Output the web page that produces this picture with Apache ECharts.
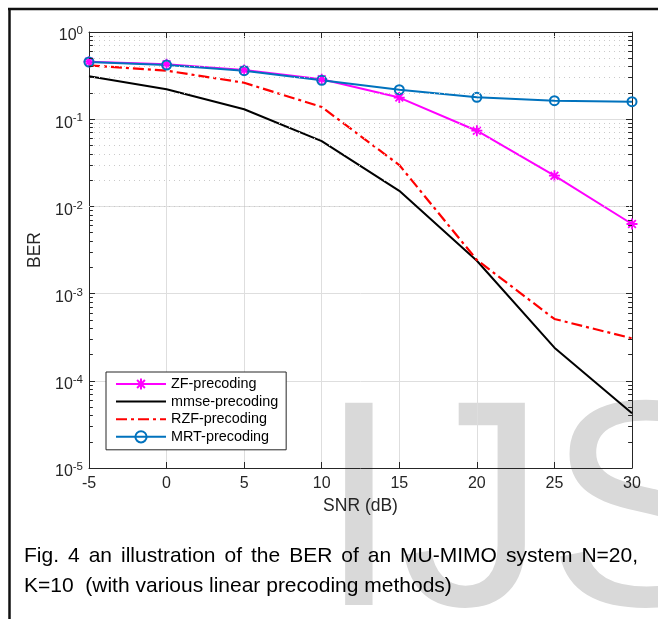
<!DOCTYPE html>
<html><head><meta charset="utf-8">
<script src="https://cdn.jsdelivr.net/npm/echarts@6/dist/echarts.min.js"></script>
<style>html,body{margin:0;padding:0;background:#fff}#c{width:658px;height:619px}</style>
</head><body><div id="c"></div>
<script>
// ---- data ----
const snr = [-5, 0, 5, 10, 15, 20, 25, 30];
const zfBer = [0.457, 0.426, 0.367, 0.287, 0.177, 0.0738, 0.0225, 0.00628];
const mmseBer = [0.31, 0.22, 0.13, 0.056, 0.0151, 0.00238, 0.00024, 0.0000424];
const rzfBer = [0.415, 0.36, 0.262, 0.138, 0.0298, 0.00243, 0.000512, 0.000307];
const mrtBer = [0.453, 0.418, 0.36, 0.279, 0.218, 0.178, 0.163, 0.159];
const seriesNames = ['ZF-precoding', 'mmse-precoding', 'RZF-precoding', 'MRT-precoding'];
const xName = 'SNR (dB)';
const yName = 'BER';
const captionLine1 = 'Fig. 4 an illustration of the BER of an MU-MIMO system N=20,';
const captionLine2 = 'K=10  (with various linear precoding methods)';
const watermark = 'IJSER';
const yExponents = [-5, -4, -3, -2, -1];
const minorMantissas = [2, 3, 4, 5, 6, 7, 8, 9];

// ---- build ----
const FONT = '"Liberation Sans", Arial, Helvetica, sans-serif';
const AX = '#262626';
const minorVals = [];
yExponents.forEach(e => minorMantissas.forEach(m => minorVals.push(m * Math.pow(10, e))));
const pair = (a, b) => snr.map((x, i) => [x, b[i]]);

const starPath = 'path://M5,0 L5,10 M0,5 L10,5 M1.5,1.5 L8.5,8.5 M1.5,8.5 L8.5,1.5';

const graphics = [];
graphics.push({type: 'text', x: 318, y: 524, z: -1, silent: true,
  style: {text: watermark, fontSize: 294, fontFamily: FONT, fill: '#d9d9d9', verticalAlign: 'middle'}});
// frame
graphics.push({type: 'line', z: 10, shape: {x1: 8, y1: 9, x2: 658, y2: 9}, style: {stroke: '#111', lineWidth: 2.5}});
graphics.push({type: 'line', z: 10, shape: {x1: 9.5, y1: 8, x2: 9.5, y2: 619}, style: {stroke: '#111', lineWidth: 2.5}});
// caption (line 1 justified)
const capSize = 21, capLeft = 24, capRight = 638;
const ctx = document.createElement('canvas').getContext('2d');
ctx.font = capSize + 'px ' + FONT;
const words = captionLine1.split(' ');
const widths = words.map(w => ctx.measureText(w).width);
const total = widths.reduce((a, b) => a + b, 0);
const gap = (capRight - capLeft - total) / (words.length - 1);
let cx = capLeft;
words.forEach((w, i) => {
  graphics.push({type: 'text', x: cx, y: 556, z: 5,
    style: {text: w, fontSize: capSize, fontFamily: FONT, fill: '#000', verticalAlign: 'middle'}});
  cx += widths[i] + gap;
});
graphics.push({type: 'text', x: capLeft, y: 586, z: 5,
  style: {text: captionLine2, fontSize: capSize, fontFamily: FONT, fill: '#000', verticalAlign: 'middle'}});

const hiddenSym = {color: 'rgba(0,0,0,0)', borderWidth: 0, borderColor: 'rgba(0,0,0,0)'};
const chart = echarts.init(document.getElementById('c'), null, {renderer: 'canvas'});
const option = {
  animation: false,
  backgroundColor: '#fff',
  graphic: graphics,
  grid: {left: 89, top: 32, right: 26, bottom: 151},
  legend: {
    data: [
      {name: seriesNames[0]},
      {name: seriesNames[1], itemStyle: hiddenSym},
      {name: seriesNames[2], itemStyle: hiddenSym},
      {name: seriesNames[3]}
    ],
    orient: 'vertical', left: 106, top: 372,
    itemWidth: 50, itemHeight: 14, itemGap: 3.6,
    padding: [5, 8, 6, 9],
    backgroundColor: '#fff', borderColor: AX, borderWidth: 1,
    textStyle: {fontSize: 14.4, fontFamily: FONT, color: '#000'},
    z: 20
  },
  xAxis: [{
    type: 'value', min: -5, max: 30, interval: 5,
    name: xName, nameLocation: 'middle', nameGap: 29,
    nameTextStyle: {fontSize: 17.5, fontFamily: FONT, color: AX},
    axisLine: {show: true, onZero: false, lineStyle: {color: AX, width: 1}},
    axisTick: {show: true, inside: true, length: 6, lineStyle: {color: AX}},
    axisLabel: {fontSize: 16, fontFamily: FONT, color: AX, margin: 8},
    splitLine: {show: true, lineStyle: {color: '#dedede', width: 1}}
  }, {
    type: 'value', min: -5, max: 30, interval: 5, position: 'top',
    axisLine: {show: true, onZero: false, lineStyle: {color: AX, width: 1}},
    axisTick: {show: true, inside: true, length: 6, lineStyle: {color: AX}},
    axisLabel: {show: false}, splitLine: {show: false}
  }],
  yAxis: [{
    type: 'log', logBase: 10, min: 1e-5, max: 1,
    name: yName, nameLocation: 'middle', nameGap: 35, nameRotate: 90,
    nameTextStyle: {fontSize: 17.5, fontFamily: FONT, color: AX},
    axisLine: {show: true, onZero: false, lineStyle: {color: AX, width: 1}},
    axisTick: {show: true, inside: true, length: 6, lineStyle: {color: AX}},
    axisLabel: {
      margin: 6, padding: [8, 0, 0, 0],
      formatter: v => '{b|10}{s|' + Math.round(Math.log10(v)) + '}',
      rich: {
        b: {fontSize: 16, fontFamily: FONT, color: AX},
        s: {fontSize: 11.5, fontFamily: FONT, color: AX, padding: [0, 0, 10, 0]}
      }
    },
    splitLine: {show: true, lineStyle: {color: '#dedede', width: 1}}
  }, {
    type: 'log', logBase: 10, min: 1e-5, max: 1, position: 'right',
    axisLine: {show: true, onZero: false, lineStyle: {color: AX, width: 1}},
    axisTick: {show: true, inside: true, length: 6, lineStyle: {color: AX}},
    axisLabel: {show: false}, splitLine: {show: false}
  }],
  series: [
    {
      name: '_minorGrid', type: 'line', data: [], z: 1, silent: true,
      markLine: {
        silent: true, symbol: ['none', 'none'], label: {show: false}, animation: false,
        lineStyle: {color: '#cacaca', type: [1, 4], width: 1},
        data: minorVals.map(v => ({yAxis: v}))
      }
    },
    {
      name: '_minorTicks', type: 'line', data: [], z: 3, silent: true,
      markLine: {
        silent: true, symbol: ['none', 'none'], label: {show: false}, animation: false,
        lineStyle: {color: AX, type: 'solid', width: 1},
        data: minorVals.map(v => [{coord: [-5, v]}, {coord: [-4.75, v]}])
          .concat(minorVals.map(v => [{coord: [30, v]}, {coord: [29.75, v]}]))
      }
    },
    {
      name: seriesNames[0], type: 'line', data: pair(snr, zfBer), z: 4,
      symbol: starPath, symbolSize: 11, showSymbol: true,
      lineStyle: {color: '#ff00ff', width: 2},
      itemStyle: {color: '#ff00ff', borderColor: '#ff00ff', borderWidth: 1.8}
    },
    {
      name: seriesNames[1], type: 'line', data: pair(snr, mmseBer), z: 4,
      symbol: 'none',
      lineStyle: {color: '#000000', width: 2},
      itemStyle: {color: '#000000'}
    },
    {
      name: seriesNames[2], type: 'line', data: pair(snr, rzfBer), z: 4,
      symbol: 'none',
      lineStyle: {color: '#ff0000', width: 2.2, type: [11, 4, 3, 4]},
      itemStyle: {color: '#ff0000'}
    },
    {
      name: seriesNames[3], type: 'line', data: pair(snr, mrtBer), z: 4,
      symbol: 'circle', symbolSize: 9, showSymbol: true,
      lineStyle: {color: '#0072bd', width: 2},
      itemStyle: {color: 'rgba(255,255,255,0)', borderColor: '#0072bd', borderWidth: 2}
    }
  ]
};
chart.setOption(option);
</script>
</body></html>
